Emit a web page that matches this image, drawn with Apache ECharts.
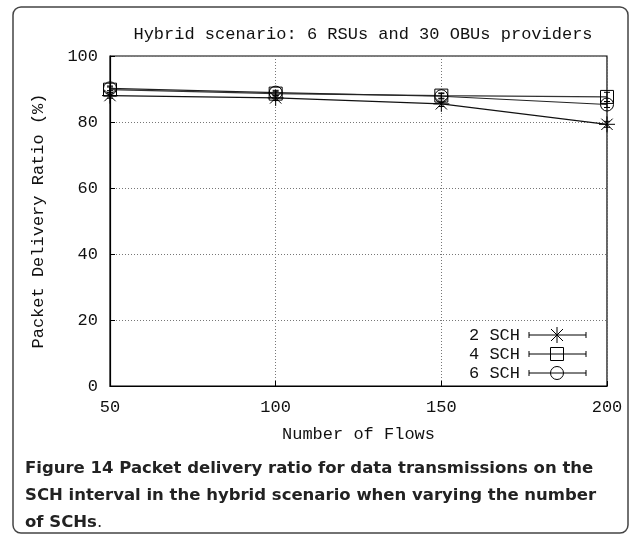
<!DOCTYPE html>
<html>
<head>
<meta charset="utf-8">
<script src="https://cdn.jsdelivr.net/npm/echarts@6/dist/echarts.min.js"></script>
<style>
  html, body { margin: 0; padding: 0; background: #fff; }
  #chart { width: 638px; height: 538px; }
</style>
</head>
<body>
<div id="chart"></div>
<script>
// Number of flows on the x axis
const flows = [50, 100, 150, 200];
const seriesNames = ['2 SCH', '4 SCH', '6 SCH'];
// Packet delivery ratio (%) per number of SCHs
const pdr2 = [88.0, 87.3, 85.5, 79.3];
const pdr4 = [89.8, 88.6, 88.0, 87.6];
const pdr6 = [90.2, 88.9, 87.8, 85.3];
// Half-width of the error bars (%)
const err2 = [0.8, 0.8, 0.8, 0.9];
const err4 = [0.8, 0.7, 0.8, 1.4];
const err6 = [0.7, 0.7, 0.8, 0.9];
const yTicks = [0, 20, 40, 60, 80, 100];

const mono = '"Liberation Mono", "DejaVu Sans Mono", monospace';
const monoSize = 17;
const starPath = 'path://M0,-10L0,10M-7.07,-7.07L7.07,7.07M-7.07,7.07L7.07,-7.07M-10,0L10,0';
const symbols = [starPath, 'rect', 'circle'];
const symbolSizes = [16, 13, 13];
const lineColors = ['#111', '#333', '#222'];
const values = [pdr2, pdr4, pdr6];
const errors = [err2, err4, err6];

const chart = echarts.init(document.getElementById('chart'), null, { renderer: 'canvas' });

const series = [];
values.forEach((vals, i) => {
  series.push({
    name: seriesNames[i],
    type: 'line',
    data: flows.map((f, k) => [f, vals[k]]),
    symbol: symbols[i],
    symbolSize: symbolSizes[i],
    showAllSymbol: true,
    lineStyle: { color: lineColors[i], width: 1.2 },
    itemStyle: { color: 'rgba(255,255,255,0)', borderColor: '#000', borderWidth: 1 },
    z: 3
  });
  series.push({
    name: seriesNames[i] + ' err',
    type: 'custom',
    data: flows.map((f, k) => [f, vals[k] - errors[i][k], vals[k] + errors[i][k]]),
    renderItem: function (params, api) {
      const lo = api.coord([api.value(0), api.value(1)]);
      const hi = api.coord([api.value(0), api.value(2)]);
      const c = 3;
      return {
        type: 'group',
        children: [
          { type: 'line', shape: { x1: lo[0], y1: lo[1], x2: hi[0], y2: hi[1] }, style: { stroke: '#000', lineWidth: 1 } },
          { type: 'line', shape: { x1: lo[0] - c, y1: lo[1], x2: lo[0] + c, y2: lo[1] }, style: { stroke: '#000', lineWidth: 1 } },
          { type: 'line', shape: { x1: hi[0] - c, y1: hi[1], x2: hi[0] + c, y2: hi[1] }, style: { stroke: '#000', lineWidth: 1 } }
        ]
      };
    },
    z: 4
  });
});

// Legend rows: label, error-bar sample, marker
const legendItems = [];
const rowY = [335, 354, 373];
const sx1 = 529, sx2 = 586, mx = 557;
function seg(x1, y1, x2, y2) {
  return { type: 'line', shape: { x1: x1, y1: y1, x2: x2, y2: y2 }, style: { stroke: '#000', lineWidth: 1 } };
}
seriesNames.forEach((name, i) => {
  const y = rowY[i];
  legendItems.push({ type: 'text', x: 520, y: y, style: { text: name, font: monoSize + 'px ' + mono, fill: '#111', textAlign: 'right', textVerticalAlign: 'middle' } });
  legendItems.push(seg(sx1, y, sx2, y));
  legendItems.push(seg(sx1, y - 3, sx1, y + 3));
  legendItems.push(seg(sx2, y - 3, sx2, y + 3));
  if (i === 0) {
    legendItems.push(seg(mx, y - 8, mx, y + 8));
    legendItems.push(seg(mx - 6, y - 6, mx + 6, y + 6));
    legendItems.push(seg(mx - 6, y + 6, mx + 6, y - 6));
  } else if (i === 1) {
    legendItems.push({ type: 'rect', shape: { x: mx - 6.5, y: y - 6.5, width: 13, height: 13 }, style: { stroke: '#000', fill: '#fff', lineWidth: 1 } });
    legendItems.push(seg(mx - 6, y, mx + 6, y));
  } else {
    legendItems.push({ type: 'circle', shape: { cx: mx, cy: y, r: 6.5 }, style: { stroke: '#000', fill: '#fff', lineWidth: 1 } });
    legendItems.push(seg(mx - 6, y, mx + 6, y));
  }
});

const captionFont = '"DejaVu Sans", "Open Sans", sans-serif';

chart.setOption({
  backgroundColor: '#fff',
  animation: false,
  title: {
    text: 'Hybrid scenario: 6 RSUs and 30 OBUs providers',
    left: 358, top: 21, textAlign: 'center',
    textStyle: { fontFamily: mono, fontSize: monoSize, fontWeight: 'normal', color: '#111' }
  },
  grid: { left: 110, right: 31, top: 56, bottom: 152, show: true, borderColor: '#000', borderWidth: 1.2, backgroundColor: 'transparent' },
  xAxis: {
    type: 'value', min: 50, max: 200, interval: 50,
    name: 'Number of Flows', nameLocation: 'middle', nameGap: 40,
    nameTextStyle: { fontFamily: mono, fontSize: monoSize, color: '#111' },
    axisLine: { show: true, lineStyle: { color: '#000', width: 1.2 } },
    axisTick: { show: true, inside: true, length: 5, lineStyle: { color: '#000' } },
    axisLabel: { fontFamily: mono, fontSize: monoSize, color: '#111', margin: 13 },
    splitLine: { show: true, lineStyle: { color: '#777', type: [1, 2], width: 1 } }
  },
  yAxis: {
    type: 'value', min: yTicks[0], max: yTicks[yTicks.length - 1], interval: 20,
    name: 'Packet Delivery Ratio (%)', nameLocation: 'middle', nameGap: 63, nameRotate: 90,
    nameTextStyle: { fontFamily: mono, fontSize: monoSize, color: '#111' },
    axisLine: { show: true, lineStyle: { color: '#000', width: 1.2 } },
    axisTick: { show: true, inside: true, length: 5, lineStyle: { color: '#000' } },
    axisLabel: { fontFamily: mono, fontSize: monoSize, color: '#111', margin: 12 },
    splitLine: { show: true, lineStyle: { color: '#777', type: [1, 2], width: 1 } }
  },
  series: series,
  graphic: [
    { type: 'rect', shape: { x: 13, y: 7, width: 615, height: 526, r: 8 }, style: { fill: null, stroke: '#444', lineWidth: 1.5 }, z: -1 },
    { type: 'rect', shape: { x: 466, y: 325, width: 134, height: 58 }, style: { fill: '#fff', stroke: null }, z: 1 },
    ...legendItems.map(g => Object.assign({ z: 2 }, g)),
    {
      type: 'text', x: 25, y: 455, z: 2,
      style: {
        text: '{b|Figure 14 Packet delivery ratio for data transmissions on the}\n{b|SCH interval in the hybrid scenario when varying the number}\n{b|of SCHs}{n|.}',
        rich: {
          b: { font: 'bold 16.5px ' + captionFont, fill: '#222', lineHeight: 27 },
          n: { font: '16.5px ' + captionFont, fill: '#222', lineHeight: 27 }
        }
      }
    }
  ]
});
</script>
</body>
</html>
